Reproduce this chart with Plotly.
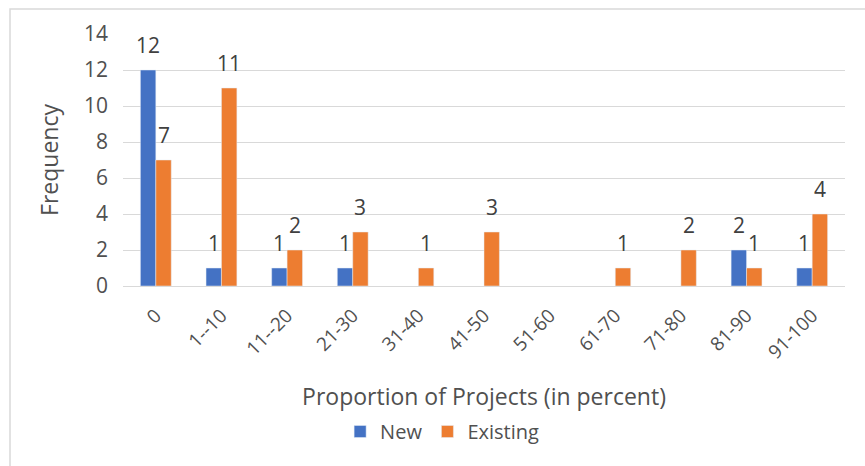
import plotly.graph_objects as go

categories = ["0", "1--10", "11--20", "21-30", "31-40", "41-50", "51-60", "61-70", "71-80", "81-90", "91-100"]
new_vals = [12, 1, 1, 1, None, None, None, None, None, 2, 1]
existing_vals = [7, 11, 2, 3, 1, 3, None, 1, 2, 1, 4]

FONT = "Open Sans"
TXT = "#505050"
BAR_OFFSET_PX = 7.7

series = [("New", new_vals, "#4472C4", -BAR_OFFSET_PX), ("Existing", existing_vals, "#ED7D31", BAR_OFFSET_PX)]

fig = go.Figure()
annotations = []
for name, vals, color, shift in series:
    fig.add_trace(go.Bar(x=categories, y=vals, name=name, marker_color=color))
    for cat, v in zip(categories, vals):
        if v is None:
            continue
        annotations.append(dict(
            x=cat, y=v, xref="x", yref="y", text=str(v), showarrow=False,
            xshift=shift, yshift=25, yanchor="middle", xanchor="center",
            font=dict(family=FONT, size=21, color="#404040"),
        ))

fig.update_layout(
    width=865, height=466,
    margin=dict(l=123, r=20, t=34, b=180, autoexpand=False),
    paper_bgcolor="white", plot_bgcolor="white",
    barmode="group", bargap=0.53, bargroupgap=0,
    font=dict(family=FONT, color=TXT),
    showlegend=True,
    legend=dict(orientation="h", x=0.442, xanchor="center", y=-0.50, yanchor="top",
                font=dict(family=FONT, size=20, color=TXT),
                itemwidth=30, traceorder="normal"),
    annotations=annotations,
    shapes=[dict(type="rect", xref="paper", yref="paper",
                 x0=-0.1565, x1=1.1, y0=-0.75, y1=1.099,
                 line=dict(color="#D9D9D9", width=1.5), fillcolor="rgba(0,0,0,0)", layer="below")],
)
fig.update_yaxes(
    range=[0, 14], dtick=2, showgrid=True, gridcolor="#D9D9D9", gridwidth=1.3,
    zeroline=False, showline=False, ticks="", automargin=False,
    tickfont=dict(family=FONT, size=21, color=TXT), ticklabelstandoff=14,
    title=dict(text="Frequency", font=dict(family=FONT, size=23, color=TXT), standoff=18),
)
fig.update_xaxes(
    showline=True, linecolor="#D9D9D9", linewidth=1.3, ticks="", automargin=False,
    tickangle=-45, tickfont=dict(family=FONT, size=19, color=TXT), ticklabelstandoff=10,
    title=dict(text="Proportion of Projects (in percent)", font=dict(family=FONT, size=23, color=TXT), standoff=25),
)

fig.write_html("out.html", config={"displayModeBar": False},
               post_script="document.body.style.margin='0';")
